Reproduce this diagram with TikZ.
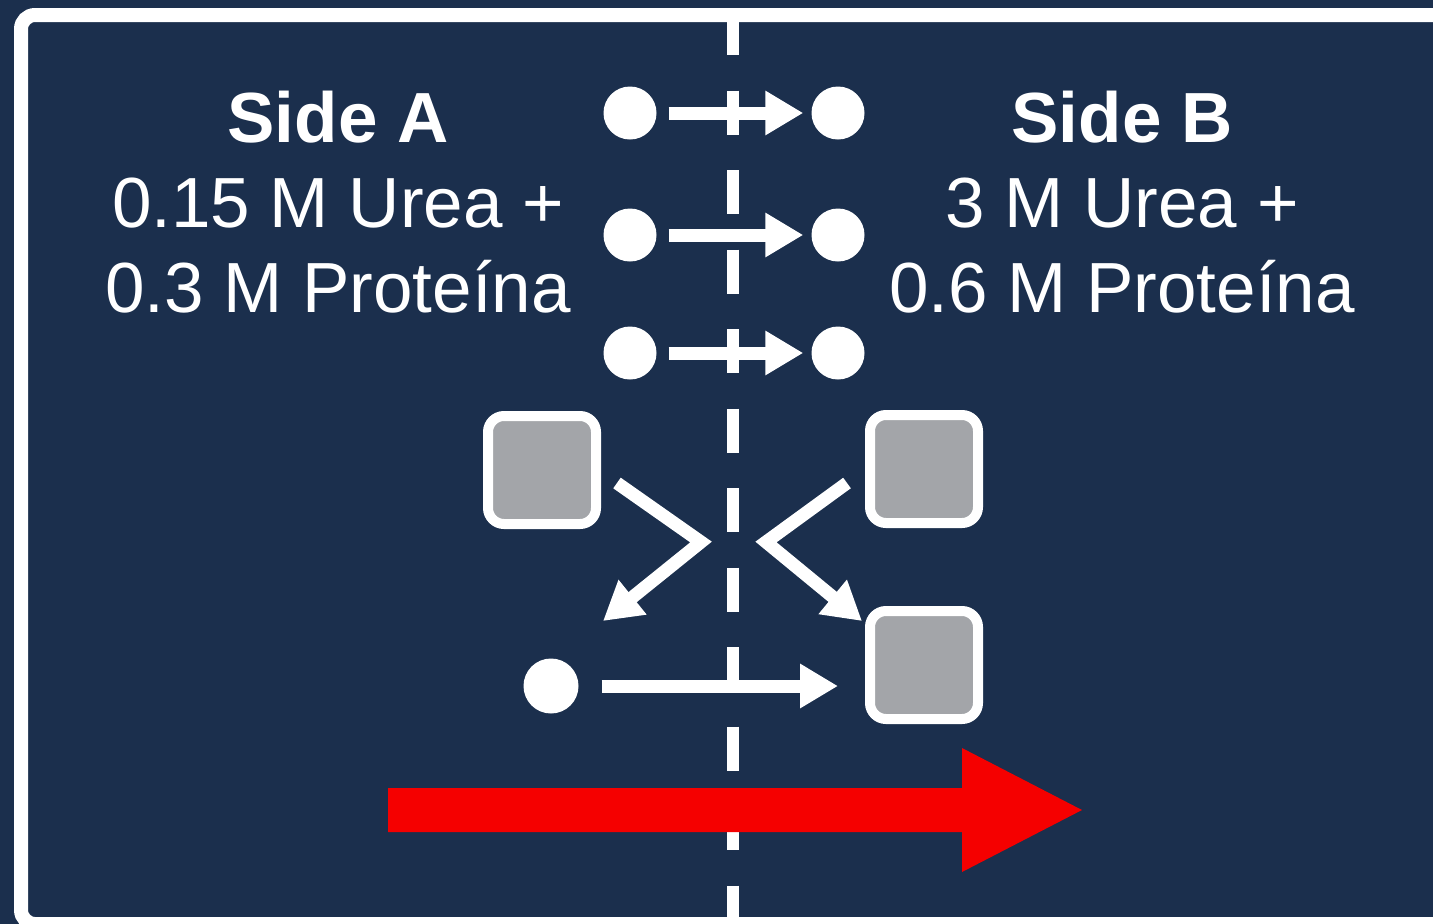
\documentclass[tikz,border=0pt]{standalone}
\usepackage{fontspec}
\setmainfont{Liberation Sans}
\usetikzlibrary{arrows.meta}
\definecolor{navy}{RGB}{27,47,77}
\definecolor{boxgray}{RGB}{163,165,169}
\definecolor{arrowred}{RGB}{245,0,0}
\begin{document}
\begin{tikzpicture}[x=1pt,y=-1pt,
  dot/.style={circle,fill=white,minimum size=53pt,inner sep=0pt},
  smalldot/.style={circle,fill=white,minimum size=55pt,inner sep=0pt},
  sq/.style={rectangle,rounded corners=16pt,draw=white,line width=10pt,fill=boxgray,minimum size=108pt,inner sep=0pt},
  flow/.style={draw=white,line width=13pt,line join=miter,-{Triangle[length=38pt,width=42pt]}},
  lbl/.style={text=white,font=\fontsize{71}{85}\selectfont,anchor=base,inner sep=0pt},
  boldlbl/.style={text=white,font=\fontsize{71}{85}\selectfont\bfseries,anchor=base,inner sep=0pt}]
\fill[navy] (0,0) rectangle (1433,924);
\useasboundingbox (0,0) rectangle (1433,924);
% frame
\draw[white,line width=14pt,rounded corners=14pt] (1460,15) -- (21,15) -- (21,924) -- (1460,924);
% membrane
\coordinate (mtop) at (733,11);
\coordinate (mbot) at (733,935);
\draw[white,line width=12pt,dash pattern=on 44pt off 35.5pt] (mtop) -- (mbot);
% labels
\node[boldlbl] (sideA) at (338,142) {Side A};
\node[lbl] (a2) at (338,227) {0.15 M Urea +};
\node[lbl] (a3) at (338,312) {0.3 M Proteína};
\node[boldlbl] (sideB) at (1122,142) {Side B};
\node[lbl] (b2) at (1122,227) {3 M Urea +};
\node[lbl] (b3) at (1122,312) {0.6 M Proteína};
% urea dots
\node[dot] (l1) at (630,113) {};
\node[dot] (r1) at (838,113) {};
\node[dot] (l2) at (630,235) {};
\node[dot] (r2) at (838,235) {};
\node[dot] (l3) at (630,353) {};
\node[dot] (r3) at (838,353) {};
\draw[flow,shorten <=12pt,shorten >=8pt] (l1) -- (r1);
\draw[flow,shorten <=12pt,shorten >=8pt] (l2) -- (r2);
\draw[flow,shorten <=12pt,shorten >=8pt] (l3) -- (r3);
% proteins
\node[sq] (pA) at (542,470) {};
\node[sq] (pB1) at (924,469) {};
\node[sq] (pB2) at (924,665) {};
\node[smalldot] (u4) at (551,686) {};
% bent arrows
\coordinate (la1) at (617,483);
\coordinate (la2) at (701,542);
\coordinate (la3) at (603,621);
\coordinate (ra1) at (847,483);
\coordinate (ra2) at (766,542);
\coordinate (ra3) at (862,621);
\draw[flow] (la1) -- (la2) -- (la3);
\draw[flow] (ra1) -- (ra2) -- (ra3);
% bottom arrow
\draw[flow,shorten <=23pt,shorten >=27pt] (u4) -- (pB2.west |- u4);
% red arrow
\fill[arrowred] (388,788) -- (962,788) -- (962,748) -- (1082,810) -- (962,872) -- (962,832) -- (388,832) -- cycle;
\end{tikzpicture}
\end{document}
